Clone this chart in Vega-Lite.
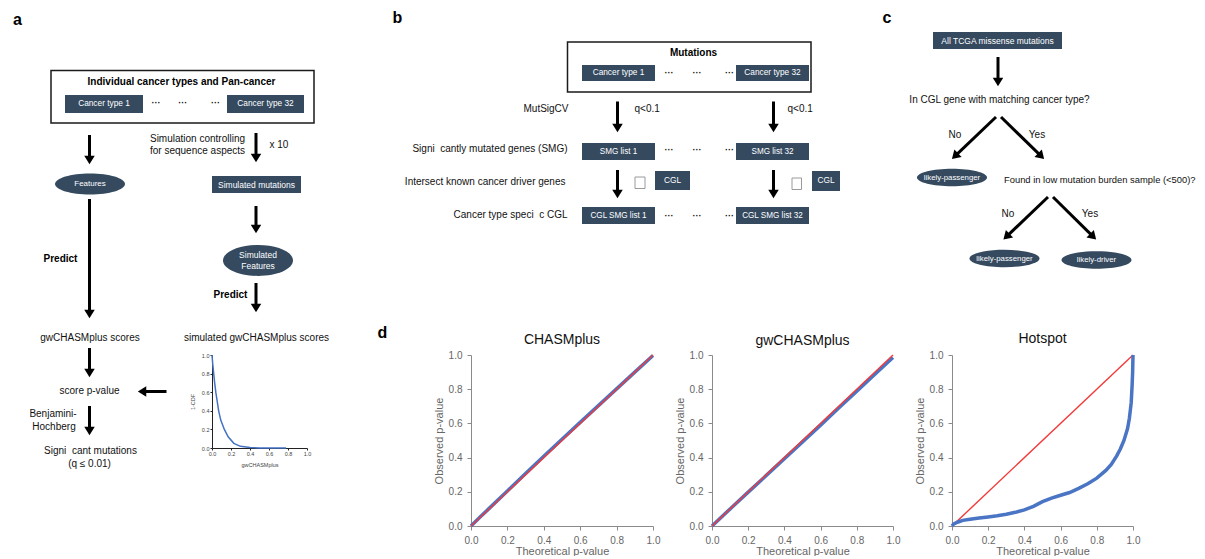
{
  "$schema": "https://vega.github.io/schema/vega-lite/v6.json",
  "padding": 0,
  "autosize": {"type": "pad"},
  "background": "white",
  "spacing": 0,
  "bounds": "flush",
  "vconcat": [
    {
      "width": 1205,
      "height": 355,
      "layer": [
        {
          "data": {"name": "frames"},
          "mark": {"type": "rect", "fill": null, "stroke": "#1a1a1a", "strokeWidth": 1.5},
          "encoding": {
            "x": {"field": "x", "type": "quantitative", "scale": {"domain": [0, 1205], "nice": false, "zero": false}, "axis": null},
            "x2": {"field": "x2"},
            "y": {"field": "y", "type": "quantitative", "scale": {"domain": [0, 355], "nice": false, "zero": false, "reverse": true}, "axis": null},
            "y2": {"field": "y2"}
          }
        },
        {
          "data": {"name": "boxes"},
          "mark": {"type": "rect", "fill": "#354a5f"},
          "encoding": {
            "x": {"field": "x", "type": "quantitative", "scale": {"domain": [0, 1205], "nice": false, "zero": false}, "axis": null},
            "x2": {"field": "x2"},
            "y": {"field": "y", "type": "quantitative", "scale": {"domain": [0, 355], "nice": false, "zero": false, "reverse": true}, "axis": null},
            "y2": {"field": "y2"}
          }
        },
        {
          "data": {"name": "tofu"},
          "mark": {"type": "rect", "fill": "white", "stroke": "#9a9a9a", "strokeWidth": 1},
          "encoding": {
            "x": {"field": "x", "type": "quantitative", "scale": {"domain": [0, 1205], "nice": false, "zero": false}, "axis": null},
            "x2": {"field": "x2"},
            "y": {"field": "y", "type": "quantitative", "scale": {"domain": [0, 355], "nice": false, "zero": false, "reverse": true}, "axis": null},
            "y2": {"field": "y2"}
          }
        },
        {
          "data": {"name": "boxes"},
          "transform": [
            {"calculate": "(datum.x + datum.x2) / 2", "as": "cx"},
            {"calculate": "(datum.y + datum.y2) / 2", "as": "cy"}
          ],
          "mark": {"type": "text", "color": "white", "align": "center", "baseline": "middle"},
          "encoding": {
            "x": {"field": "cx", "type": "quantitative", "scale": {"domain": [0, 1205], "nice": false, "zero": false}, "axis": null},
            "y": {"field": "cy", "type": "quantitative", "scale": {"domain": [0, 355], "nice": false, "zero": false, "reverse": true}, "axis": null},
            "text": {"field": "label"},
            "size": {"field": "fs", "type": "ordinal", "scale": {"domain": ["l", "m", "s"], "range": [8.5, 7.8, 7]}, "legend": null}
          }
        },
        {
          "data": {"name": "ellipses"},
          "mark": {"type": "point", "filled": true, "fill": "#354a5f", "opacity": 1, "size": 4900, "strokeWidth": 0},
          "encoding": {
            "x": {"field": "x", "type": "quantitative", "scale": {"domain": [0, 1205], "nice": false, "zero": false}, "axis": null},
            "y": {"field": "y", "type": "quantitative", "scale": {"domain": [0, 355], "nice": false, "zero": false, "reverse": true}, "axis": null},
            "shape": {
              "field": "kind", "type": "nominal", "legend": null,
              "scale": {
                "domain": ["feat", "simfeat", "likely"],
                "range": [
                  "M-1,0C-1,-0.1657,-0.5523,-0.3,0,-0.3C0.5523,-0.3,1,-0.1657,1,0C1,0.1657,0.5523,0.3,0,0.3C-0.5523,0.3,-1,0.1657,-1,0Z",
                  "M-1,0C-1,-0.243,-0.5523,-0.44,0,-0.44C0.5523,-0.44,1,-0.243,1,0C1,0.243,0.5523,0.44,0,0.44C-0.5523,0.44,-1,0.243,-1,0Z",
                  "M-1,0C-1,-0.138,-0.5523,-0.25,0,-0.25C0.5523,-0.25,1,-0.138,1,0C1,0.138,0.5523,0.25,0,0.25C-0.5523,0.25,-1,0.138,-1,0Z"
                ]
              }
            }
          }
        },
        {
          "data": {"name": "ellipses"},
          "transform": [{"filter": "datum.kind != 'simfeat'"}],
          "mark": {"type": "text", "color": "white", "align": "center", "baseline": "middle"},
          "encoding": {
            "x": {"field": "x", "type": "quantitative", "scale": {"domain": [0, 1205], "nice": false, "zero": false}, "axis": null},
            "y": {"field": "y", "type": "quantitative", "scale": {"domain": [0, 355], "nice": false, "zero": false, "reverse": true}, "axis": null},
            "text": {"field": "label"},
            "size": {"field": "kind", "type": "ordinal", "scale": {"domain": ["feat", "likely"], "range": [8, 7.5]}, "legend": null}
          }
        },
        {
          "data": {"name": "ellipses"},
          "transform": [{"filter": "datum.kind == 'simfeat'"}],
          "mark": {"type": "text", "color": "white", "align": "center", "baseline": "middle", "lineBreak": "\n", "lineHeight": 11, "fontSize": 8.5, "dy": -5.5},
          "encoding": {
            "x": {"field": "x", "type": "quantitative", "scale": {"domain": [0, 1205], "nice": false, "zero": false}, "axis": null},
            "y": {"field": "y", "type": "quantitative", "scale": {"domain": [0, 355], "nice": false, "zero": false, "reverse": true}, "axis": null},
            "text": {"field": "label"}
          }
        },
        {
          "data": {"name": "arrows"},
          "mark": {"type": "rule", "color": "#000", "strokeWidth": 3},
          "encoding": {
            "x": {"field": "x", "type": "quantitative", "scale": {"domain": [0, 1205], "nice": false, "zero": false}, "axis": null},
            "y": {"field": "y", "type": "quantitative", "scale": {"domain": [0, 355], "nice": false, "zero": false, "reverse": true}, "axis": null},
            "x2": {"field": "x2"},
            "y2": {"field": "y2"}
          }
        },
        {
          "data": {"name": "arrows"},
          "transform": [{"calculate": "atan2(datum.x - datum.x2, datum.y2 - datum.y) * 180 / PI", "as": "ang"}],
          "mark": {"type": "point", "shape": "M0,0.6L-1,-1L1,-1Z", "filled": true, "fill": "#000", "opacity": 1, "size": 110, "strokeWidth": 0},
          "encoding": {
            "x": {"field": "x2", "type": "quantitative", "scale": {"domain": [0, 1205], "nice": false, "zero": false}, "axis": null},
            "y": {"field": "y2", "type": "quantitative", "scale": {"domain": [0, 355], "nice": false, "zero": false, "reverse": true}, "axis": null},
            "angle": {"field": "ang", "type": "quantitative", "scale": null}
          }
        },
        {
          "data": {"name": "labels"},
          "transform": [{"filter": "datum.role == 'panel'"}],
          "mark": {"type": "text", "fontSize": 16, "fontWeight": "bold", "align": "left", "baseline": "alphabetic", "color": "#000"},
          "encoding": {
            "x": {"field": "x", "type": "quantitative", "scale": {"domain": [0, 1205], "nice": false, "zero": false}, "axis": null},
            "y": {"field": "y", "type": "quantitative", "scale": {"domain": [0, 355], "nice": false, "zero": false, "reverse": true}, "axis": null},
            "text": {"field": "text"}
          }
        },
        {
          "data": {"name": "labels"},
          "transform": [{"filter": "datum.role == 'bold'"}],
          "mark": {"type": "text", "fontSize": 10, "fontWeight": "bold", "align": "center", "baseline": "middle", "color": "#000"},
          "encoding": {
            "x": {"field": "x", "type": "quantitative", "scale": {"domain": [0, 1205], "nice": false, "zero": false}, "axis": null},
            "y": {"field": "y", "type": "quantitative", "scale": {"domain": [0, 355], "nice": false, "zero": false, "reverse": true}, "axis": null},
            "text": {"field": "text"}
          }
        },
        {
          "data": {"name": "labels"},
          "transform": [{"filter": "datum.role == 'c'"}],
          "mark": {"type": "text", "fontSize": 10, "align": "center", "baseline": "middle", "color": "#111"},
          "encoding": {
            "x": {"field": "x", "type": "quantitative", "scale": {"domain": [0, 1205], "nice": false, "zero": false}, "axis": null},
            "y": {"field": "y", "type": "quantitative", "scale": {"domain": [0, 355], "nice": false, "zero": false, "reverse": true}, "axis": null},
            "text": {"field": "text"}
          }
        },
        {
          "data": {"name": "labels"},
          "transform": [{"filter": "datum.role == 'l'"}],
          "mark": {"type": "text", "fontSize": 10, "align": "left", "baseline": "middle", "color": "#111"},
          "encoding": {
            "x": {"field": "x", "type": "quantitative", "scale": {"domain": [0, 1205], "nice": false, "zero": false}, "axis": null},
            "y": {"field": "y", "type": "quantitative", "scale": {"domain": [0, 355], "nice": false, "zero": false, "reverse": true}, "axis": null},
            "text": {"field": "text"}
          }
        },
        {
          "data": {"name": "labels"},
          "transform": [{"filter": "datum.role == 'ls'"}],
          "mark": {"type": "text", "fontSize": 9.4, "align": "left", "baseline": "middle", "color": "#111"},
          "encoding": {
            "x": {"field": "x", "type": "quantitative", "scale": {"domain": [0, 1205], "nice": false, "zero": false}, "axis": null},
            "y": {"field": "y", "type": "quantitative", "scale": {"domain": [0, 355], "nice": false, "zero": false, "reverse": true}, "axis": null},
            "text": {"field": "text"}
          }
        },
        {
          "data": {"name": "labels"},
          "transform": [{"filter": "datum.role == 'r'"}],
          "mark": {"type": "text", "fontSize": 10, "align": "right", "baseline": "middle", "color": "#111"},
          "encoding": {
            "x": {"field": "x", "type": "quantitative", "scale": {"domain": [0, 1205], "nice": false, "zero": false}, "axis": null},
            "y": {"field": "y", "type": "quantitative", "scale": {"domain": [0, 355], "nice": false, "zero": false, "reverse": true}, "axis": null},
            "text": {"field": "text"}
          }
        },
        {
          "data": {"name": "labels"},
          "transform": [{"filter": "datum.role == 'dots'"}],
          "mark": {"type": "text", "fontSize": 9, "fontWeight": "bold", "align": "center", "baseline": "middle", "color": "#111"},
          "encoding": {
            "x": {"field": "x", "type": "quantitative", "scale": {"domain": [0, 1205], "nice": false, "zero": false}, "axis": null},
            "y": {"field": "y", "type": "quantitative", "scale": {"domain": [0, 355], "nice": false, "zero": false, "reverse": true}, "axis": null},
            "text": {"field": "text"}
          }
        }
      ]
    },
    {
      "spacing": 0,
      "bounds": "flush",
      "hconcat": [
        {"width": 212, "height": 10, "data": {"values": []}, "mark": "point", "encoding": {}},
        {
          "width": 95,
          "height": 93,
          "data": {"name": "cdf"},
          "mark": {"type": "line", "color": "#4472c4", "strokeWidth": 1.5},
          "encoding": {
            "x": {
              "field": "score", "type": "quantitative",
              "scale": {"domain": [0, 1], "nice": false},
              "axis": {"title": "gwCHASMplus", "values": [0, 0.2, 0.4, 0.6, 0.8, 1], "format": ".1f", "labelFontSize": 5.5, "labelColor": "#444", "labelFlush": false, "labelOverlap": false, "titleFontSize": 5.5, "titleFontWeight": "normal", "titleColor": "#444", "titlePadding": 6, "domainColor": "#222", "tickColor": "#222", "tickSize": 2, "labelPadding": 1, "grid": false}
            },
            "y": {
              "field": "ccdf", "type": "quantitative",
              "scale": {"domain": [0, 1], "nice": false},
              "axis": {"title": "1-CDF", "values": [0, 0.2, 0.4, 0.6, 0.8, 1], "format": ".1f", "labelFontSize": 5.5, "labelColor": "#444", "labelFlush": false, "labelOverlap": false, "titleFontSize": 5.5, "titleFontWeight": "normal", "titleColor": "#444", "titlePadding": 6, "domainColor": "#222", "tickColor": "#222", "tickSize": 2, "labelPadding": 1, "grid": false}
            }
          }
        },
        {"width": 164, "height": 10, "data": {"values": []}, "mark": "point", "encoding": {}},
        {
          "width": 182,
          "height": 171,
          "title": {"text": "CHASMplus", "fontSize": 14, "fontWeight": "normal", "color": "#111", "offset": 2},
          "encoding": {
            "x": {"field": "t", "type": "quantitative", "scale": {"domain": [0, 1], "nice": false},
              "axis": {"title": "Theoretical p-value", "values": [0, 0.2, 0.4, 0.6, 0.8, 1], "format": ".1f", "labelFontSize": 10, "labelColor": "#666", "labelFlush": false, "labelOverlap": false, "titleFontSize": 11, "titleFontWeight": "normal", "titleColor": "#666", "titlePadding": 0, "domainColor": "#8a8a8a", "tickColor": "#8a8a8a", "tickSize": 4, "labelPadding": 5, "grid": false}},
            "y": {"field": "o", "type": "quantitative", "scale": {"domain": [0, 1], "nice": false},
              "axis": {"title": "Observed p-value", "values": [0, 0.2, 0.4, 0.6, 0.8, 1], "format": ".1f", "labelFontSize": 10, "labelColor": "#666", "labelOverlap": false, "labelFlush": false, "titleFontSize": 11, "titleFontWeight": "normal", "titleColor": "#666", "titlePadding": 4, "domainColor": "#8a8a8a", "tickColor": "#8a8a8a", "tickSize": 4, "labelPadding": 5, "grid": false}}
          },
          "layer": [
            {"data": {"name": "qq_chasm"}, "mark": {"type": "line", "color": "#4a74c4", "strokeWidth": 3.5}},
            {"data": {"name": "diag"}, "mark": {"type": "line", "color": "#f23a3a", "strokeWidth": 1.4}}
          ]
        },
        {"width": 59, "height": 10, "data": {"values": []}, "mark": "point", "encoding": {}},
        {
          "width": 181,
          "height": 171,
          "title": {"text": "gwCHASMplus", "fontSize": 14, "fontWeight": "normal", "color": "#111", "offset": 2},
          "encoding": {
            "x": {"field": "t", "type": "quantitative", "scale": {"domain": [0, 1], "nice": false},
              "axis": {"title": "Theoretical p-value", "values": [0, 0.2, 0.4, 0.6, 0.8, 1], "format": ".1f", "labelFontSize": 10, "labelColor": "#666", "labelFlush": false, "labelOverlap": false, "titleFontSize": 11, "titleFontWeight": "normal", "titleColor": "#666", "titlePadding": 0, "domainColor": "#8a8a8a", "tickColor": "#8a8a8a", "tickSize": 4, "labelPadding": 5, "grid": false}},
            "y": {"field": "o", "type": "quantitative", "scale": {"domain": [0, 1], "nice": false},
              "axis": {"title": "Observed p-value", "values": [0, 0.2, 0.4, 0.6, 0.8, 1], "format": ".1f", "labelFontSize": 10, "labelColor": "#666", "labelOverlap": false, "labelFlush": false, "titleFontSize": 11, "titleFontWeight": "normal", "titleColor": "#666", "titlePadding": 4, "domainColor": "#8a8a8a", "tickColor": "#8a8a8a", "tickSize": 4, "labelPadding": 5, "grid": false}}
          },
          "layer": [
            {"data": {"name": "qq_gw"}, "mark": {"type": "line", "color": "#4a74c4", "strokeWidth": 3.5}},
            {"data": {"name": "diag"}, "mark": {"type": "line", "color": "#f23a3a", "strokeWidth": 1.4}}
          ]
        },
        {"width": 59, "height": 10, "data": {"values": []}, "mark": "point", "encoding": {}},
        {
          "width": 181,
          "height": 171,
          "title": {"text": "Hotspot", "fontSize": 14, "fontWeight": "normal", "color": "#111", "offset": 2},
          "encoding": {
            "x": {"field": "t", "type": "quantitative", "scale": {"domain": [0, 1], "nice": false},
              "axis": {"title": "Theoretical p-value", "values": [0, 0.2, 0.4, 0.6, 0.8, 1], "format": ".1f", "labelFontSize": 10, "labelColor": "#666", "labelFlush": false, "labelOverlap": false, "titleFontSize": 11, "titleFontWeight": "normal", "titleColor": "#666", "titlePadding": 0, "domainColor": "#8a8a8a", "tickColor": "#8a8a8a", "tickSize": 4, "labelPadding": 5, "grid": false}},
            "y": {"field": "o", "type": "quantitative", "scale": {"domain": [0, 1], "nice": false},
              "axis": {"title": "Observed p-value", "values": [0, 0.2, 0.4, 0.6, 0.8, 1], "format": ".1f", "labelFontSize": 10, "labelColor": "#666", "labelOverlap": false, "labelFlush": false, "titleFontSize": 11, "titleFontWeight": "normal", "titleColor": "#666", "titlePadding": 4, "domainColor": "#8a8a8a", "tickColor": "#8a8a8a", "tickSize": 4, "labelPadding": 5, "grid": false}}
          },
          "layer": [
            {"data": {"name": "diag"}, "mark": {"type": "line", "color": "#f23a3a", "strokeWidth": 1.4}},
            {"data": {"name": "qq_hot"}, "mark": {"type": "line", "color": "#4a74c4", "strokeWidth": 3.5}}
          ]
        }
      ]
    }
  ],
  "datasets": {
    "frames": [
      {"x": 51, "x2": 314, "y": 70.5, "y2": 123},
      {"x": 567.5, "x2": 811, "y": 42, "y2": 92}
    ],
    "boxes": [
      {"x": 65, "x2": 143, "y": 95, "y2": 113, "label": "Cancer type 1", "fs": "m"},
      {"x": 227, "x2": 304, "y": 95, "y2": 113, "label": "Cancer type 32", "fs": "m"},
      {"x": 212, "x2": 301, "y": 176, "y2": 193, "label": "Simulated mutations", "fs": "l"},
      {"x": 582, "x2": 655, "y": 65, "y2": 81, "label": "Cancer type 1", "fs": "m"},
      {"x": 736, "x2": 809, "y": 65, "y2": 81, "label": "Cancer type 32", "fs": "m"},
      {"x": 582, "x2": 655, "y": 143, "y2": 160, "label": "SMG list 1", "fs": "s"},
      {"x": 736, "x2": 809, "y": 143, "y2": 160, "label": "SMG list 32", "fs": "s"},
      {"x": 655, "x2": 690, "y": 171, "y2": 190, "label": "CGL", "fs": "m"},
      {"x": 812, "x2": 840, "y": 171, "y2": 191, "label": "CGL", "fs": "m"},
      {"x": 582, "x2": 655, "y": 207, "y2": 224, "label": "CGL SMG list 1", "fs": "s"},
      {"x": 736, "x2": 809, "y": 207, "y2": 224, "label": "CGL SMG list 32", "fs": "s"},
      {"x": 933, "x2": 1062, "y": 32, "y2": 49, "label": "All TCGA missense mutations", "fs": "l"}
    ],
    "tofu": [
      {"x": 635, "x2": 645, "y": 177, "y2": 188.5},
      {"x": 792, "x2": 801.5, "y": 178, "y2": 189.5}
    ],
    "ellipses": [
      {"x": 90, "y": 184, "label": "Features", "kind": "feat"},
      {"x": 258, "y": 260.5, "label": "Simulated\nFeatures", "kind": "simfeat"},
      {"x": 952, "y": 177.5, "label": "likely-passenger", "kind": "likely"},
      {"x": 1004.5, "y": 258.5, "label": "likely-passenger", "kind": "likely"},
      {"x": 1096.5, "y": 260, "label": "likely-driver", "kind": "likely"}
    ],
    "arrows": [
      {"x": 89.5, "y": 135, "x2": 89.5, "y2": 161},
      {"x": 256, "y": 133, "x2": 256, "y2": 159},
      {"x": 89.5, "y": 199, "x2": 89.5, "y2": 315},
      {"x": 256, "y": 206, "x2": 256, "y2": 230},
      {"x": 256, "y": 283, "x2": 256, "y2": 309},
      {"x": 89.5, "y": 348, "x2": 89.5, "y2": 374},
      {"x": 166.5, "y": 391.5, "x2": 141, "y2": 391.5},
      {"x": 89.5, "y": 406, "x2": 89.5, "y2": 432},
      {"x": 617.5, "y": 101.5, "x2": 617.5, "y2": 129},
      {"x": 773.5, "y": 101.5, "x2": 773.5, "y2": 129},
      {"x": 617.5, "y": 170, "x2": 617.5, "y2": 195},
      {"x": 773.5, "y": 170, "x2": 773.5, "y2": 195},
      {"x": 998, "y": 57, "x2": 998, "y2": 83},
      {"x": 996, "y": 117, "x2": 954.2, "y2": 156.9},
      {"x": 1001, "y": 117, "x2": 1041.9, "y2": 156.9},
      {"x": 1048, "y": 197, "x2": 1005.7, "y2": 237.4},
      {"x": 1053, "y": 197, "x2": 1093.9, "y2": 237.4}
    ],
    "labels": [
      {"x": 13, "y": 25, "text": "a", "role": "panel"},
      {"x": 392.5, "y": 23.3, "text": "b", "role": "panel"},
      {"x": 882.5, "y": 23.3, "text": "c", "role": "panel"},
      {"x": 377.5, "y": 338, "text": "d", "role": "panel"},
      {"x": 181.5, "y": 82, "text": "Individual cancer types and Pan-cancer", "role": "bold"},
      {"x": 693.5, "y": 52.5, "text": "Mutations", "role": "bold"},
      {"x": 60.5, "y": 258.5, "text": "Predict", "role": "bold"},
      {"x": 230.5, "y": 295, "text": "Predict", "role": "bold"},
      {"x": 197.5, "y": 138.5, "text": "Simulation controlling", "role": "c"},
      {"x": 197.5, "y": 151, "text": "for sequence aspects", "role": "c"},
      {"x": 90, "y": 337.5, "text": "gwCHASMplus scores", "role": "c"},
      {"x": 256.5, "y": 337.5, "text": "simulated gwCHASMplus scores", "role": "c"},
      {"x": 89.5, "y": 391, "text": "score p-value", "role": "c"},
      {"x": 53, "y": 413.5, "text": "Benjamini-", "role": "c"},
      {"x": 54, "y": 426.5, "text": "Hochberg", "role": "c"},
      {"x": 90.5, "y": 450.5, "text": "Signi\u00a0\u00a0cant mutations", "role": "c"},
      {"x": 89.5, "y": 463.5, "text": "(q ≤ 0.01)", "role": "c"},
      {"x": 999.5, "y": 100, "text": "In CGL gene with matching cancer type?", "role": "c"},
      {"x": 955, "y": 134.5, "text": "No", "role": "c"},
      {"x": 1037, "y": 134.5, "text": "Yes", "role": "c"},
      {"x": 1008, "y": 213.5, "text": "No", "role": "c"},
      {"x": 1090, "y": 213.5, "text": "Yes", "role": "c"},
      {"x": 269.5, "y": 144.5, "text": "x 10", "role": "l"},
      {"x": 634.5, "y": 108.5, "text": "q<0.1", "role": "l"},
      {"x": 787.5, "y": 108.5, "text": "q<0.1", "role": "l"},
      {"x": 1004, "y": 180, "text": "Found in low mutation burden sample (<500)?", "role": "ls"},
      {"x": 568.5, "y": 108.5, "text": "MutSigCV", "role": "r"},
      {"x": 567.5, "y": 148.5, "text": "Signi\u00a0\u00a0cantly mutated genes (SMG)", "role": "r"},
      {"x": 565.5, "y": 181.5, "text": "Intersect known cancer driver genes", "role": "r"},
      {"x": 567.5, "y": 215, "text": "Cancer type speci\u00a0\u00a0c CGL", "role": "r"},
      {"x": 156, "y": 102.5, "text": "···", "role": "dots"},
      {"x": 182.7, "y": 102.5, "text": "···", "role": "dots"},
      {"x": 215.5, "y": 102.5, "text": "···", "role": "dots"},
      {"x": 669, "y": 73, "text": "···", "role": "dots"},
      {"x": 697, "y": 73, "text": "···", "role": "dots"},
      {"x": 729.5, "y": 73, "text": "···", "role": "dots"},
      {"x": 669, "y": 150, "text": "···", "role": "dots"},
      {"x": 697, "y": 150, "text": "···", "role": "dots"},
      {"x": 729.5, "y": 150, "text": "···", "role": "dots"},
      {"x": 669, "y": 215.5, "text": "···", "role": "dots"},
      {"x": 697, "y": 215.5, "text": "···", "role": "dots"},
      {"x": 729.5, "y": 215.5, "text": "···", "role": "dots"}
    ],
    "cdf": [
      {"score": 0, "ccdf": 1},
      {"score": 0.008, "ccdf": 0.9},
      {"score": 0.018, "ccdf": 0.8},
      {"score": 0.028, "ccdf": 0.7},
      {"score": 0.04, "ccdf": 0.6},
      {"score": 0.055, "ccdf": 0.5},
      {"score": 0.07, "ccdf": 0.4},
      {"score": 0.092, "ccdf": 0.3},
      {"score": 0.13, "ccdf": 0.2},
      {"score": 0.17, "ccdf": 0.12},
      {"score": 0.23, "ccdf": 0.05},
      {"score": 0.3, "ccdf": 0.018},
      {"score": 0.4, "ccdf": 0.005},
      {"score": 0.5, "ccdf": 0.001},
      {"score": 0.6, "ccdf": 0},
      {"score": 0.78, "ccdf": 0}
    ],
    "diag": [
      {"t": 0, "o": 0},
      {"t": 1, "o": 1}
    ],
    "qq_chasm": [
      {"t": 0, "o": 0},
      {"t": 0.05, "o": 0.052},
      {"t": 0.1, "o": 0.103},
      {"t": 0.2, "o": 0.205},
      {"t": 0.3, "o": 0.307},
      {"t": 0.4, "o": 0.408},
      {"t": 0.5, "o": 0.507},
      {"t": 0.6, "o": 0.606},
      {"t": 0.7, "o": 0.704},
      {"t": 0.8, "o": 0.802},
      {"t": 0.9, "o": 0.9},
      {"t": 1, "o": 0.997}
    ],
    "qq_gw": [
      {"t": 0, "o": 0},
      {"t": 0.1, "o": 0.1},
      {"t": 0.2, "o": 0.198},
      {"t": 0.3, "o": 0.296},
      {"t": 0.4, "o": 0.394},
      {"t": 0.5, "o": 0.492},
      {"t": 0.6, "o": 0.59},
      {"t": 0.7, "o": 0.69},
      {"t": 0.8, "o": 0.788},
      {"t": 0.9, "o": 0.888},
      {"t": 1, "o": 0.985}
    ],
    "qq_hot": [
      {"t": 0, "o": 0},
      {"t": 0.01, "o": 0.012},
      {"t": 0.03, "o": 0.022},
      {"t": 0.06, "o": 0.033},
      {"t": 0.1, "o": 0.04},
      {"t": 0.15, "o": 0.047},
      {"t": 0.2, "o": 0.053},
      {"t": 0.25, "o": 0.06},
      {"t": 0.3, "o": 0.069},
      {"t": 0.35, "o": 0.08},
      {"t": 0.4, "o": 0.094},
      {"t": 0.45, "o": 0.115},
      {"t": 0.5, "o": 0.142},
      {"t": 0.55, "o": 0.163},
      {"t": 0.6, "o": 0.18},
      {"t": 0.65, "o": 0.196},
      {"t": 0.7, "o": 0.22},
      {"t": 0.75, "o": 0.247},
      {"t": 0.8, "o": 0.28},
      {"t": 0.85, "o": 0.325},
      {"t": 0.88, "o": 0.36},
      {"t": 0.91, "o": 0.41},
      {"t": 0.93, "o": 0.45},
      {"t": 0.95, "o": 0.5},
      {"t": 0.97, "o": 0.57},
      {"t": 0.98, "o": 0.63},
      {"t": 0.99, "o": 0.72},
      {"t": 0.995, "o": 0.82},
      {"t": 0.998, "o": 0.9},
      {"t": 1, "o": 1}
    ]
  },
  "config": {
    "font": "Liberation Sans",
    "view": {"stroke": null},
    "axis": {"grid": false}
  }
}
